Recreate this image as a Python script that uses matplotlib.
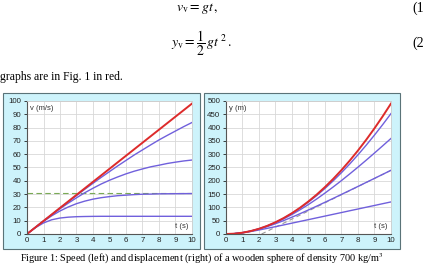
import matplotlib
matplotlib.use('Agg')
import matplotlib.pyplot as plt
from matplotlib.patches import Rectangle

plt.rcParams['font.family'] = ['Liberation Sans', 'DejaVu Sans']
plt.rcParams['mathtext.fontset'] = 'stix'

# time grid (s)
t = [0, 0.5, 1, 1.5, 2, 2.5, 3, 3.5, 4, 4.5, 5, 5.5, 6, 6.5, 7, 7.5, 8, 8.5, 9, 9.5, 10]

# speed (m/s)
v_free = [0, 4.9, 9.8, 14.7, 19.6, 24.5, 29.4, 34.3, 39.2, 44.1, 49.0,
          53.9, 58.8, 63.7, 68.6, 73.5, 78.4, 83.3, 88.2, 93.1, 98.0]
v_curves = [
    [0, 4.7, 8.3, 10.7, 12.0, 12.65, 13.0, 13.15, 13.25, 13.3, 13.3,
     13.3, 13.3, 13.3, 13.3, 13.3, 13.3, 13.3, 13.3, 13.3, 13.3],
    [0, 4.86, 9.5, 13.7, 17.3, 20.3, 22.8, 24.7, 26.2, 27.3, 28.1,
     28.8, 29.2, 29.6, 29.9, 30.0, 30.2, 30.25, 30.3, 30.35, 30.4],
    [0, 4.89, 9.7, 14.4, 19.0, 23.2, 27.2, 31.0, 34.4, 37.6, 40.4,
     42.9, 45.2, 47.2, 48.9, 50.5, 51.7, 53.0, 54.0, 54.9, 55.6],
    [0, 4.9, 9.78, 14.6, 19.5, 24.2, 28.9, 33.6, 38.1, 42.6, 46.9,
     51.2, 55.3, 59.4, 63.2, 67.0, 70.7, 74.1, 77.4, 80.7, 83.8],
]
v_terminal = 30.5

# displacement (m)
y_free = [0, 1.2, 4.9, 11.0, 19.6, 30.6, 44.1, 60.0, 78.4, 99.2, 122.5,
          148.2, 176.4, 207.0, 240.1, 275.6, 313.6, 354.0, 396.9, 442.2, 490.0]
y_curves = [
    [0, 1.19, 4.51, 9.32, 15.0, 21.2, 27.6, 34.1, 40.8, 47.4, 54.0,
     60.65, 67.3, 74.0, 80.6, 87.3, 93.9, 100.6, 107.2, 113.9, 120.5],
    [0, 1.22, 4.82, 10.64, 18.37, 27.8, 38.6, 50.5, 63.2, 76.6, 90.4,
     104.7, 119.2, 133.8, 148.8, 163.7, 178.7, 193.8, 209.0, 224.1, 239.4],
    [0, 1.22, 4.87, 10.91, 19.25, 29.7, 42.4, 57.0, 73.3, 91.4, 110.8,
     131.6, 153.8, 176.8, 200.8, 225.7, 251.2, 277.4, 304.2, 331.4, 358.9],
    [0, 1.22, 4.9, 11.01, 19.53, 30.46, 43.76, 59.4, 77.34, 97.53, 119.9,
     144.5, 171.1, 199.8, 230.5, 263.0, 297.5, 333.7, 371.6, 411.1, 452.3],
]
asym_t = [2.16, 10]
asym_y = [0, 239.2]

red = '#dd2b2b'
blue = '#7060dc'
box_bg = '#cdf3fb'

fig = plt.figure(figsize=(4.24, 2.65), dpi=100)

# cyan frames behind the plots
for x0, w in [(0.007, 0.465), (0.481, 0.462)]:
    fig.patches.append(Rectangle((x0, 0.060), w, 0.589, transform=fig.transFigure,
                                 facecolor=box_bg, edgecolor='#5a7378', lw=0.8, zorder=-1))

ax1 = fig.add_axes([0.0637, 0.117, 0.389, 0.502])
ax2 = fig.add_axes([0.533, 0.117, 0.389, 0.502])

for ax in (ax1, ax2):
    ax.set_facecolor('white')
    ax.set_xlim(0, 10)
    ax.set_xticks(range(0, 11))
    ax.grid(True, color='#d8d8d8', lw=0.6)
    ax.set_axisbelow(True)
    ax.tick_params(labelsize=5.7, colors='#222222', length=2, width=0.6, pad=2)
    for s in ('top', 'right'):
        ax.spines[s].set_color('#cccccc')
        ax.spines[s].set_linewidth(0.6)
    for s in ('left', 'bottom'):
        ax.spines[s].set_color('#555555')
        ax.spines[s].set_linewidth(0.8)
    ax.tick_params(axis='x', length=0)

ax1.set_ylim(0, 100)
ax1.set_yticks(range(0, 101, 10))
ax1.axhline(v_terminal, color='#7aaa55', lw=0.8, ls=(0, (5, 3)))
for c in v_curves:
    ax1.plot(t, c, color=blue, lw=1.0)
ax1.plot(t, v_free, color=red, lw=1.4)
ax1.text(0.2, 97, 'v (m/s)', fontsize=5.5, color='#333333', va='top')
ax1.text(9.8, 3, 't (s)', fontsize=5.5, color='#333333', ha='right', va='bottom')

ax2.set_ylim(0, 500)
ax2.set_yticks(range(0, 501, 50))
ax2.plot(asym_t, asym_y, color='#999999', lw=0.8, ls=(0, (4, 3)))
for c in y_curves:
    ax2.plot(t, c, color=blue, lw=1.0)
ax2.plot(t, y_free, color=red, lw=1.4)
ax2.text(0.2, 485, 'y (m)', fontsize=5.5, color='#333333', va='top')
ax2.text(9.8, 15, 't (s)', fontsize=5.5, color='#333333', ha='right', va='bottom')

# surrounding document text
serif = ['Liberation Serif', 'DejaVu Serif']
fig.text(0.465, 0.995, r'$v_{\rm v} = gt\,,$', fontsize=10, ha='center', va='top', family=serif)
fig.text(0.972, 0.995, '(1', fontsize=10, ha='left', va='top', family=serif)
fig.text(0.475, 0.835, r'$y_{\rm v} = \dfrac{1}{2}\,g t^{\,2}\,.$', fontsize=10, ha='center', va='center', family=serif)
fig.text(0.972, 0.835, '(2', fontsize=10, ha='left', va='center', family=serif)
fig.text(0.0, 0.71, 'graphs are in Fig. 1 in red.', fontsize=8.4, ha='left', va='center', family=serif)
fig.text(0.475, 0.025, r'Figure 1: Speed (left) and displacement (right) of a wooden sphere of density 700 kg/m$^3$',
         fontsize=7.4, ha='center', va='center', family=serif)

fig.savefig('out.png', dpi=100)
